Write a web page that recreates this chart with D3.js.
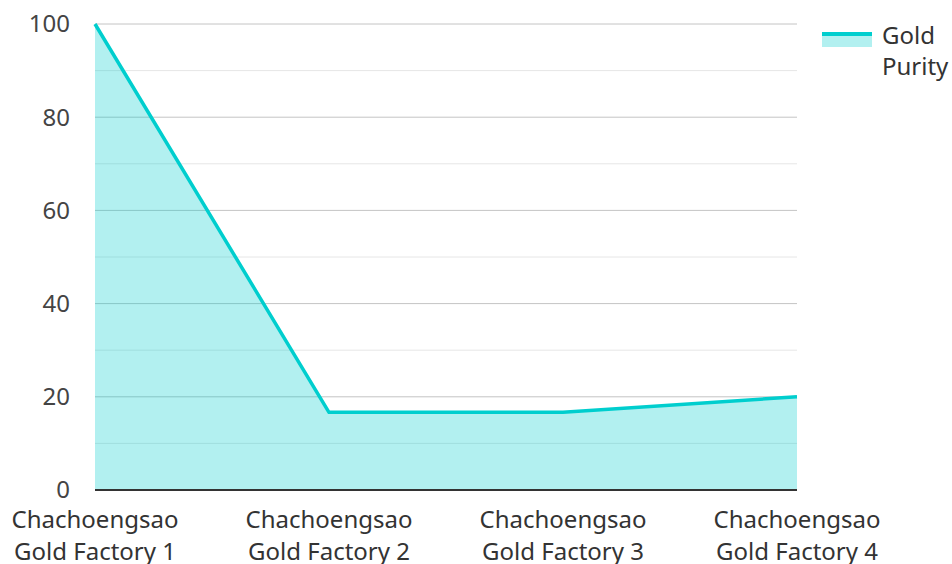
<!DOCTYPE html>
<html>
<head>
<meta charset="utf-8">
<script src="https://cdn.jsdelivr.net/npm/d3@7"></script>
<style>
  body { margin: 0; background: #fff; }
  svg { font-family: "Noto Sans", "Open Sans", sans-serif; }
</style>
</head>
<body>
<svg id="chart" width="952" height="564"></svg>
<script>
var categories = [
    "Chachoengsao Gold Factory 1",
    "Chachoengsao Gold Factory 2",
    "Chachoengsao Gold Factory 3",
    "Chachoengsao Gold Factory 4"
];
var purity = [100, 16.67, 16.67, 20];
var yTicks = [0, 20, 40, 60, 80, 100];
var seriesName = ["Gold", "Purity"];

var margin = { top: 24, right: 155, bottom: 74, left: 95 };
var svg = d3.select("#chart");
var width = 952 - margin.left - margin.right;
var height = 564 - margin.top - margin.bottom;
var g = svg.append("g")
    .attr("transform", "translate(" + margin.left + "," + margin.top + ")");

var x = d3.scalePoint().domain(categories).range([0, width]);
var y = d3.scaleLinear().domain([0, 100]).range([height, 0]);

// gridlines: minor every 10, major every 20
g.append("g").selectAll("line")
    .data(d3.range(10, 101, 10))
    .enter().append("line")
    .attr("x1", 0).attr("x2", width)
    .attr("y1", function(d) { return y(d); })
    .attr("y2", function(d) { return y(d); })
    .attr("stroke", function(d) { return d % 20 === 0 ? "#c4c4c4" : "#e6e6e6"; })
    .attr("stroke-width", 1);

var data = categories.map(function(c, i) { return { cat: c, v: purity[i] }; });

g.append("path")
    .datum(data)
    .attr("fill", "rgba(0,206,206,0.3)")
    .attr("d", d3.area()
        .x(function(d) { return x(d.cat); })
        .y0(height)
        .y1(function(d) { return y(d.v); }));

g.append("path")
    .datum(data)
    .attr("fill", "none")
    .attr("stroke", "#00cece")
    .attr("stroke-width", 3.5)
    .attr("stroke-linejoin", "round")
    .attr("d", d3.line()
        .x(function(d) { return x(d.cat); })
        .y(function(d) { return y(d.v); }));

// baseline
g.append("line")
    .attr("x1", 0).attr("x2", width)
    .attr("y1", height).attr("y2", height)
    .attr("stroke", "#333").attr("stroke-width", 2);

// y labels
g.append("g").selectAll("text")
    .data(yTicks)
    .enter().append("text")
    .attr("x", -25)
    .attr("y", function(d) { return y(d); })
    .attr("dy", "0.35em")
    .attr("text-anchor", "end")
    .attr("fill", "#444")
    .style("font-size", "24px")
    .text(function(d) { return d; });

// x labels (two lines)
var xl = g.append("g").selectAll("text")
    .data(categories)
    .enter().append("text")
    .attr("text-anchor", "middle")
    .attr("fill", "#333")
    .style("font-size", "24px")
    .attr("transform", function(d) { return "translate(" + x(d) + "," + (height + 38) + ")"; });
xl.append("tspan").attr("x", 0).attr("y", 0)
    .text(function(d) { return d.split(" ")[0]; });
xl.append("tspan").attr("x", 0).attr("y", 32)
    .text(function(d) { return d.split(" ").slice(1).join(" "); });

// legend
var lg = svg.append("g").attr("transform", "translate(822,34)");
lg.append("rect").attr("x", 0).attr("y", 0).attr("width", 50).attr("height", 13)
    .attr("fill", "rgba(0,206,206,0.3)");
lg.append("line").attr("x1", 0).attr("x2", 50).attr("y1", 0).attr("y2", 0)
    .attr("stroke", "#00cece").attr("stroke-width", 4);
lg.selectAll("text.lbl")
    .data(seriesName)
    .enter().append("text")
    .attr("class", "lbl")
    .attr("x", 60)
    .attr("y", function(d, i) { return 10 + i * 31; })
    .attr("fill", "#333")
    .style("font-size", "24px")
    .text(function(d) { return d; });
</script>
</body>
</html>
